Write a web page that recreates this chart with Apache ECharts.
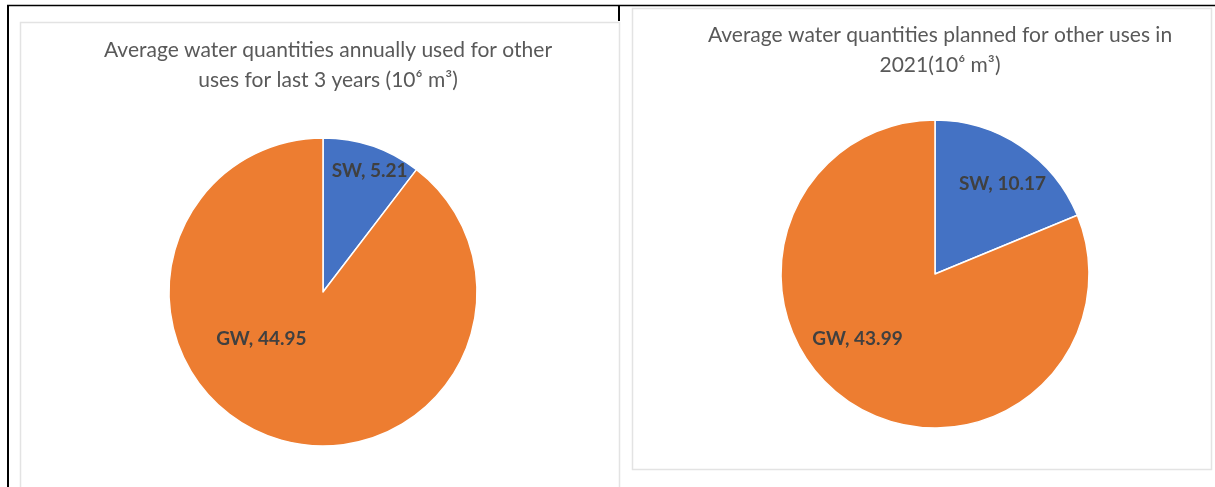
<!DOCTYPE html>
<html>
<head>
<meta charset="utf-8">
<script src="https://cdn.jsdelivr.net/npm/echarts@6/dist/echarts.min.js"></script>
<style>
  html, body { margin: 0; padding: 0; background: #fff; }
  #main { width: 1215px; height: 487px; }
</style>
</head>
<body>
<div id="main"></div>
<script>
// data
var categories = ['SW', 'GW'];
var pastValues = [5.21, 44.95];
var plannedValues = [10.17, 43.99];
var titles = [
    'Average water quantities annually used for other\nuses for last 3 years (10\u2076 m\u00b3)',
    'Average water quantities planned for other uses in\n2021(10\u2076 m\u00b3)'
];
var colors = ['#4472C4', '#ED7D31'];

// nudge labels to where Excel put them
var pastOffsets = [[21, -45], [-36, -29]];
var plannedOffsets = [[23, -24], [-33, -2]];

function buildData(values, offsets) {
    var out = [];
    for (let i = 0; i < values.length; i++) {
        out.push({
            name: categories[i],
            value: values[i],
            itemStyle: { color: colors[i] },
            label: { offset: offsets[i] }
        });
    }
    return out;
}

function pieSeries(cx, cy, values, offsets) {
    return {
        type: 'pie',
        center: [cx, cy],
        radius: 154,
        startAngle: 90,
        clockwise: true,
        animation: false,
        silent: true,
        itemStyle: { borderColor: '#fff', borderWidth: 1.5 },
        label: {
            show: true,
            position: 'inside',
            formatter: '{b}, {c}',
            color: '#404040',
            fontFamily: 'Lato',
            fontWeight: 'bold',
            fontSize: 19
        },
        labelLine: { show: false },
        data: buildData(values, offsets)
    };
}

var titleStyle = {
    color: '#595959',
    fontFamily: 'Lato',
    fontWeight: 'normal',
    fontSize: 21,
    lineHeight: 30
};

var option = {
    backgroundColor: '#fff',
    title: [
        { text: titles[0], left: 323, top: 30, textAlign: 'center', textStyle: titleStyle },
        { text: titles[1], left: 935, top: 15, textAlign: 'center', textStyle: titleStyle }
    ],
    graphic: [
        // chart frames
        { type: 'rect', shape: { x: 20.5, y: 22.5, width: 599, height: 470 }, style: { fill: 'none', stroke: '#e3e3e3', lineWidth: 1.5 }, silent: true },
        { type: 'rect', shape: { x: 632.5, y: 8.5, width: 579, height: 461 }, style: { fill: 'none', stroke: '#e3e3e3', lineWidth: 1.5 }, silent: true },
        // table lines
        { type: 'line', shape: { x1: 7, y1: 5.5, x2: 1215, y2: 5.5 }, style: { stroke: '#000', lineWidth: 1.5 }, silent: true },
        { type: 'line', shape: { x1: 8, y1: 5, x2: 8, y2: 487 }, style: { stroke: '#000', lineWidth: 2 }, silent: true },
        { type: 'line', shape: { x1: 619, y1: 5, x2: 619, y2: 21 }, style: { stroke: '#000', lineWidth: 2 }, silent: true }
    ],
    series: [
        pieSeries(323, 292, pastValues, pastOffsets),
        pieSeries(935, 274, plannedValues, plannedOffsets)
    ]
};

var chart = echarts.init(document.getElementById('main'), null, { renderer: 'canvas' });
chart.setOption(option);
</script>
</body>
</html>
